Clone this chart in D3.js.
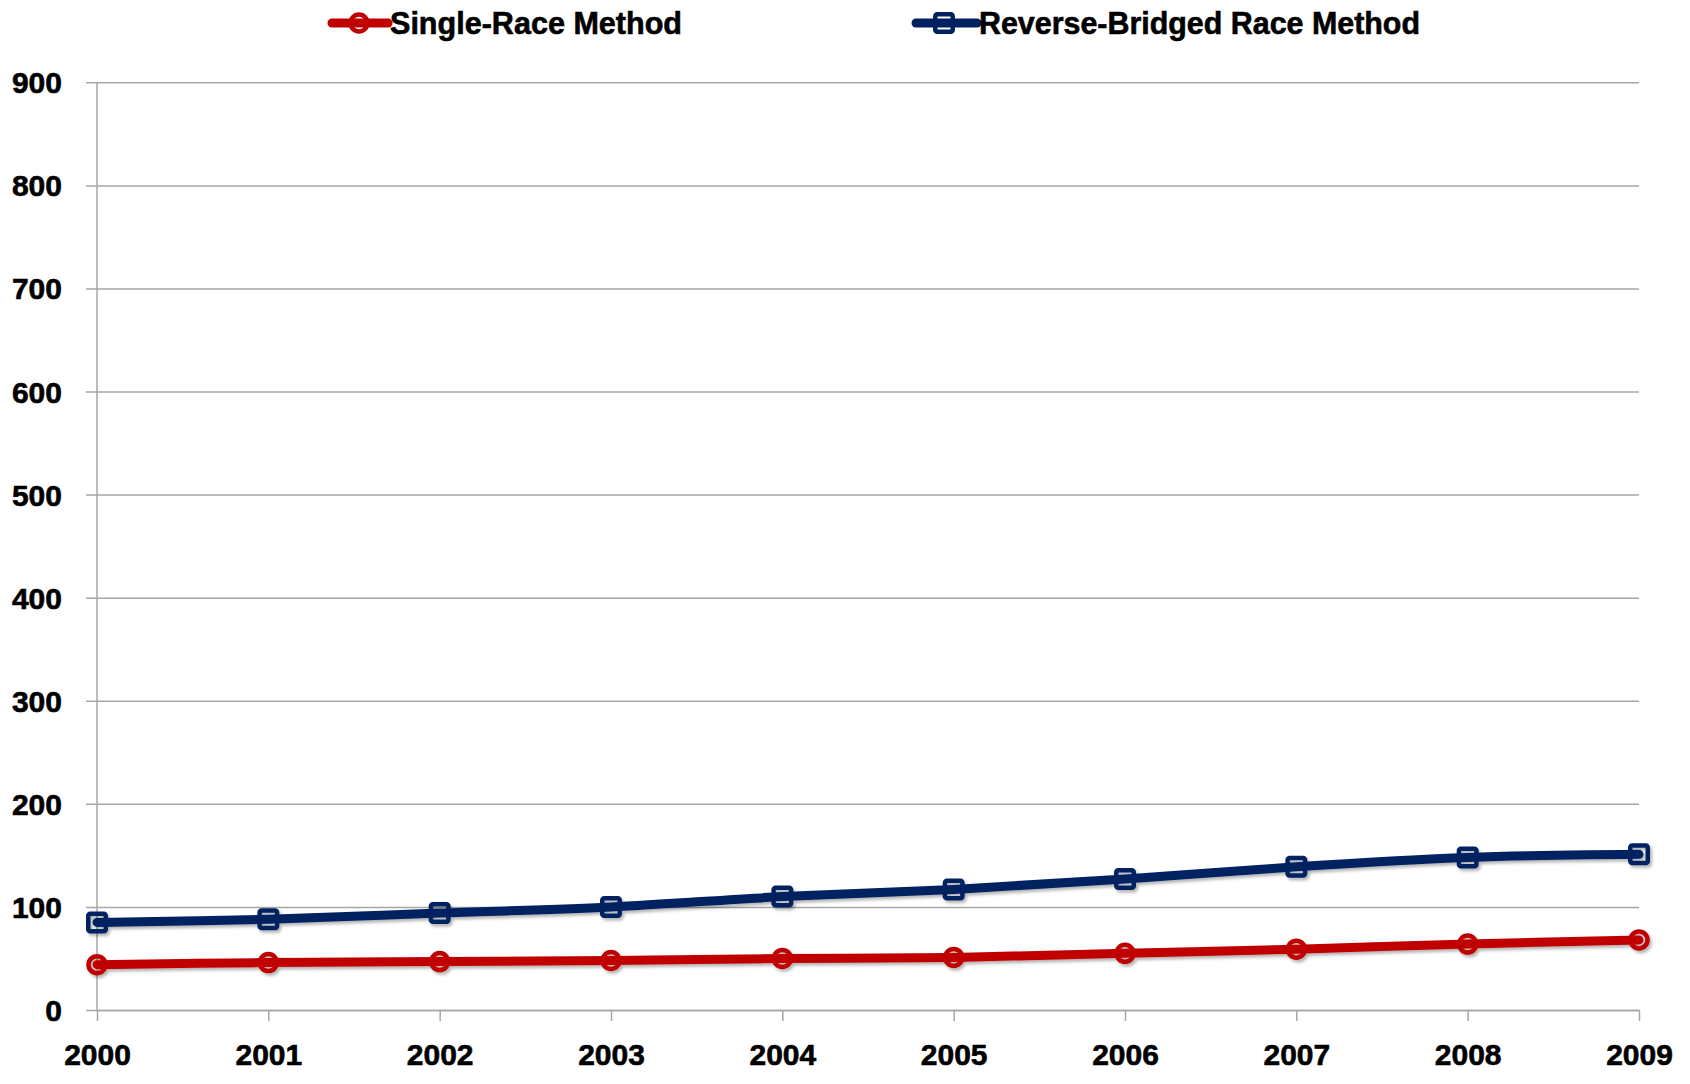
<!DOCTYPE html>
<html>
<head>
<meta charset="utf-8">
<script src="https://cdn.jsdelivr.net/npm/d3@7"></script>
<style>
  html, body { margin: 0; padding: 0; background: #fff; }
  svg { display: block; }
  text { font-family: "Liberation Sans", Arial, sans-serif; font-weight: bold; fill: #000; }
</style>
</head>
<body>
<svg id="chart" width="1690" height="1084"></svg>
<script>
const years = [2000, 2001, 2002, 2003, 2004, 2005, 2006, 2007, 2008, 2009];
const singleRace = [44, 46, 47, 48, 50, 51, 55, 59, 64, 68];
const reverseBridged = [85, 88, 94, 100, 110, 117, 127, 139, 148, 151];
const yTicks = [0, 100, 200, 300, 400, 500, 600, 700, 800, 900];
const seriesNames = ["Single-Race Method", "Reverse-Bridged Race Method"];

const RED = "#C00000", BLUE = "#002060", GRID = "#a6a6a6";
const svg = d3.select("#chart");

const defs = svg.append("defs");
const f = defs.append("filter").attr("id", "shadow")
  .attr("x", "-20%").attr("y", "-20%").attr("width", "140%").attr("height", "160%");
f.append("feDropShadow").attr("dx", 2).attr("dy", 2.5).attr("stdDeviation", 1.6)
  .attr("flood-color", "#000").attr("flood-opacity", 0.3);

const x = d3.scaleLinear().domain([2000, 2009]).range([97, 1639]);
const y = d3.scaleLinear().domain([0, 900]).range([1010, 82.3]);

const labelStyle = sel => sel
  .style("font-family", "'Liberation Sans', Arial, sans-serif").style("font-weight", "bold")
  .attr("fill", "#000").attr("stroke", "#000").attr("stroke-width", 0.6).attr("font-size", 30);

// Y axis with gridlines
const gy = svg.append("g").attr("transform", "translate(86,0)")
  .call(d3.axisLeft(y).tickValues(yTicks).tickSizeInner(-(1639 - 86)).tickSizeOuter(0).tickPadding(24));
gy.select(".domain").remove();
gy.selectAll(".tick line").attr("stroke", GRID).attr("stroke-width", 1.5);
gy.selectAll(".tick text").call(labelStyle).attr("dy", "0.35em");

// vertical axis line
svg.append("line").attr("x1", 97).attr("x2", 97).attr("y1", y(900)).attr("y2", y(0))
  .attr("stroke", GRID).attr("stroke-width", 1.5);

// X axis
const gx = svg.append("g").attr("transform", `translate(0,${y(0)})`)
  .call(d3.axisBottom(x).tickValues(years).tickFormat(d3.format("d")).tickSizeInner(11).tickSizeOuter(0).tickPadding(23));
gx.select(".domain").attr("stroke", GRID).attr("stroke-width", 1.5);
gx.selectAll(".tick line").attr("stroke", GRID).attr("stroke-width", 1.5);
gx.selectAll(".tick text").call(labelStyle);

const line = d3.line().x(d => x(d[0])).y(d => y(d[1])).curve(d3.curveCatmullRom.alpha(0));

function drawSeries(values, color, shape) {
  const data = years.map((yr, i) => [yr, values[i]]);
  const g = svg.append("g").attr("filter", "url(#shadow)");
  g.append("path").datum(data).attr("d", line)
    .attr("fill", "none").attr("stroke", color).attr("stroke-width", 9)
    .attr("stroke-linejoin", "round").attr("stroke-linecap", "round");
  if (shape === "circle") {
    g.selectAll("circle.m").data(data).join("circle").attr("class", "m")
      .attr("cx", d => x(d[0])).attr("cy", d => y(d[1])).attr("r", 8.5)
      .attr("fill", "none").attr("stroke", color).attr("stroke-width", 4.5);
  } else {
    const s = 17.5;
    g.selectAll("rect.m").data(data).join("rect").attr("class", "m")
      .attr("x", d => x(d[0]) - s / 2).attr("y", d => y(d[1]) - s / 2)
      .attr("width", s).attr("height", s).attr("rx", 2)
      .attr("fill", "none").attr("stroke", color).attr("stroke-width", 4.5);
  }
}
drawSeries(singleRace, RED, "circle");
drawSeries(reverseBridged, BLUE, "square");

// Legend
const legend = [
  { name: seriesNames[0], color: RED, shape: "circle", x0: 332, x1: 388, cx: 359, tx: 390, tw: 292 },
  { name: seriesNames[1], color: BLUE, shape: "square", x0: 916, x1: 977, cx: 944, tx: 979, tw: 441 }
];
legend.forEach(l => {
  const g = svg.append("g");
  g.append("line").attr("x1", l.x0).attr("x2", l.x1).attr("y1", 23).attr("y2", 23)
    .attr("stroke", l.color).attr("stroke-width", 9).attr("stroke-linecap", "round");
  if (l.shape === "circle") {
    g.append("circle").attr("cx", l.cx).attr("cy", 23).attr("r", 8.5)
      .attr("fill", "none").attr("stroke", l.color).attr("stroke-width", 4.5);
  } else {
    g.append("rect").attr("x", l.cx - 8.75).attr("y", 23 - 8.75).attr("width", 17.5).attr("height", 17.5).attr("rx", 2)
      .attr("fill", "none").attr("stroke", l.color).attr("stroke-width", 4.5);
  }
  g.append("text").attr("x", l.tx).attr("y", 34).attr("font-size", 31)
    .attr("stroke", "#000").attr("stroke-width", 0.6)
    .attr("textLength", l.tw).attr("lengthAdjust", "spacingAndGlyphs").text(l.name);
});
</script>
</body>
</html>
